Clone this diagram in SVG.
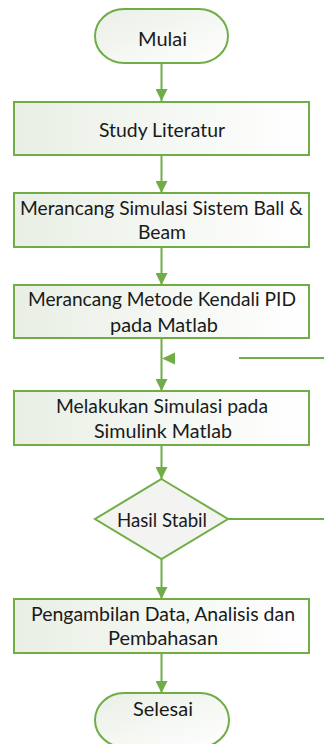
<svg xmlns="http://www.w3.org/2000/svg" width="324" height="744" viewBox="0 0 324 744">
<defs>
<linearGradient id="g" x1="0" y1="0" x2="1" y2="0">
<stop offset="0" stop-color="#e9efe5"/>
<stop offset="1" stop-color="#ffffff"/>
</linearGradient>
<linearGradient id="gt" x1="0" y1="0" x2="1" y2="1">
<stop offset="0" stop-color="#e9efe5"/>
<stop offset="1" stop-color="#ffffff"/>
</linearGradient>
<marker id="ah" markerWidth="13" markerHeight="12" refX="12" refY="6" orient="auto" markerUnits="userSpaceOnUse">
<path d="M0,0 L12,6 L0,12 Z" fill="#70ad47"/>
</marker>
</defs>
<style>
.box{fill:url(#g);stroke:#70ad47;stroke-width:2}
.term{fill:url(#gt);stroke:#70ad47;stroke-width:2}
.dia{fill:#f3f3f1;stroke:#70ad47;stroke-width:2}
.c{stroke:#70ad47;stroke-width:2;fill:none}
text{font-family:Lato,"Open Sans","Liberation Sans",sans-serif;font-size:18.5px;fill:#1a1a1a}
</style>
<g id="connectors">
<line class="c" x1="161.5" y1="63" x2="161.5" y2="101" marker-end="url(#ah)"/>
<line class="c" x1="161.5" y1="155" x2="161.5" y2="193" marker-end="url(#ah)"/>
<line class="c" x1="161.5" y1="247" x2="161.5" y2="285" marker-end="url(#ah)"/>
<line class="c" x1="161.5" y1="338" x2="161.5" y2="391" marker-end="url(#ah)"/>
<path d="M162,358.5 L175,352.5 L175,364.5 Z" fill="#70ad47"/>
<line class="c" x1="239" y1="358" x2="324" y2="358"/>
<line class="c" x1="161.5" y1="445" x2="161.5" y2="479" marker-end="url(#ah)"/>
<line class="c" x1="228" y1="519" x2="324" y2="519"/>
<line class="c" x1="161.5" y1="559" x2="161.5" y2="599" marker-end="url(#ah)"/>
<line class="c" x1="161.5" y1="653" x2="161.5" y2="693" marker-end="url(#ah)"/>
</g>
<g id="mulai">
<rect class="term" x="95" y="9" width="133" height="54" rx="29" ry="27"/>
<text x="162.5" y="46" text-anchor="middle" textLength="49" lengthAdjust="spacingAndGlyphs">Mulai</text>
</g>
<g id="study">
<rect class="box" x="14" y="102" width="295" height="53"/>
<text x="162" y="136.5" text-anchor="middle" textLength="126" lengthAdjust="spacingAndGlyphs">Study Literatur</text>
</g>
<g id="simulasi">
<rect class="box" x="14" y="193" width="295" height="54"/>
<text x="161.5" y="214.5" text-anchor="middle" textLength="283" lengthAdjust="spacingAndGlyphs">Merancang Simulasi Sistem Ball &amp;</text>
<text x="162" y="239" text-anchor="middle" textLength="48" lengthAdjust="spacingAndGlyphs">Beam</text>
</g>
<g id="pid">
<rect class="box" x="14" y="285" width="295" height="53"/>
<text x="162" y="306" text-anchor="middle" textLength="268" lengthAdjust="spacingAndGlyphs">Merancang Metode Kendali PID</text>
<text x="164" y="331.5" text-anchor="middle" textLength="108" lengthAdjust="spacingAndGlyphs">pada Matlab</text>
</g>
<g id="simulink">
<rect class="box" x="14" y="391" width="295" height="54"/>
<text x="162" y="412.5" text-anchor="middle" textLength="212" lengthAdjust="spacingAndGlyphs">Melakukan Simulasi pada</text>
<text x="163" y="438" text-anchor="middle" textLength="138" lengthAdjust="spacingAndGlyphs">Simulink Matlab</text>
</g>
<g id="hasil">
<path class="dia" d="M161.5,479 L228,519 L161.5,559 L95,519 Z"/>
<text x="162" y="526.5" text-anchor="middle" textLength="90" lengthAdjust="spacingAndGlyphs">Hasil Stabil</text>
</g>
<g id="analisis">
<rect class="box" x="14" y="599" width="295" height="54"/>
<text x="163" y="621" text-anchor="middle" textLength="264" lengthAdjust="spacingAndGlyphs">Pengambilan Data, Analisis dan</text>
<text x="163" y="645" text-anchor="middle" textLength="110" lengthAdjust="spacingAndGlyphs">Pembahasan</text>
</g>
<g id="selesai">
<rect class="term" x="95" y="693" width="134" height="54" rx="29" ry="27"/>
<text x="163" y="716" text-anchor="middle" textLength="60" lengthAdjust="spacingAndGlyphs">Selesai</text>
</g>
</svg>
